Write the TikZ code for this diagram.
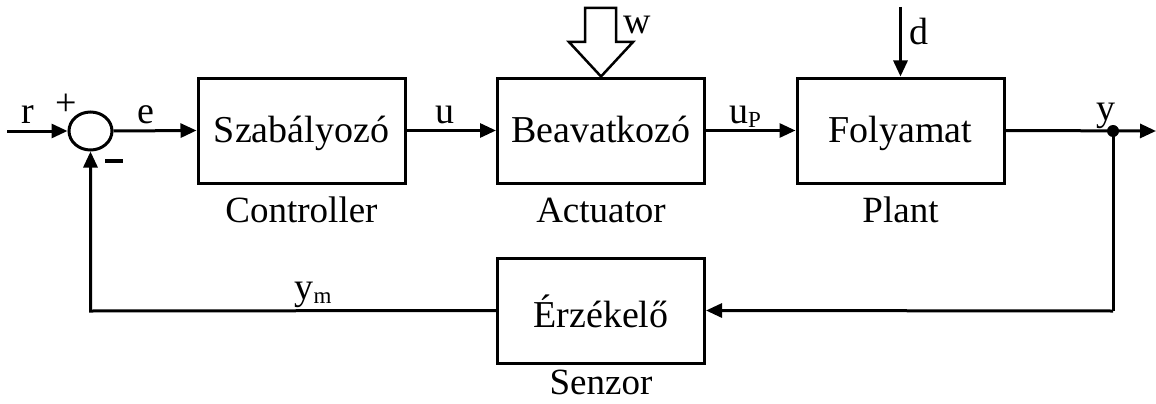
\documentclass[tikz,border=0pt]{standalone}
\usepackage{fontspec}
\setmainfont{Liberation Serif}
\usetikzlibrary{arrows.meta,shapes.geometric}
\tikzset{
  blk/.style={draw, line width=3pt, minimum width=207pt, minimum height=105pt,
    inner sep=0pt, font=\fontsize{38}{38}\selectfont, text depth=2pt},
  sig/.style={line width=3pt, -{Triangle[length=16pt,width=14pt]}},
  wire/.style={line width=3pt},
  lbl/.style={anchor=base, inner sep=0pt, font=\fontsize{38}{38}\selectfont},
  sub/.style={anchor=base, inner sep=0pt, font=\fontsize{37}{37}\selectfont},
}
\newcommand{\lowsub}[1]{\raisebox{-0.12em}{\fontsize{23}{23}\selectfont #1}}
\begin{document}
\begin{tikzpicture}[x=1pt,y=-1pt]
\useasboundingbox (0,0) rectangle (1156,404);

% summing junction
\node[draw, line width=3pt, ellipse, minimum width=43pt, minimum height=38pt, inner sep=0pt] (sum) at (90.5,131) {};
\coordinate (rin) at (7,131);

% blocks
\node[blk, text height=25pt] (ctrl) at (301.5,130.5) {Szabályozó};
\node[blk, text height=25pt] (act) at (601,130.5) {Beavatkozó};
\node[blk, text height=25pt] (plant) at (900.5,130.5) {Folyamat};
\node[blk, text height=35pt] (sens) at (601,310.5) {Érzékelő};

% branch point and line ends
\coordinate (yout) at (1156,131);
\node[circle, fill, inner sep=0pt, minimum size=12pt] (tap) at (1113,131) {};
\coordinate (fbR) at (1113,311);
\coordinate (fbL) at (90.5,311);
\coordinate (dtop) at (900.5,7);

% forward path
\draw[sig] (rin) -- (sum.west);
\draw[sig] (sum.east) -- (ctrl.west);
\draw[sig] (ctrl.east) -- (act.west);
\draw[sig] (act.east) -- (plant.west);
\draw[sig] (plant.east) -- (yout);

% feedback path
\draw[wire] (tap.center) -- (fbR);
\draw[sig] (fbR) -- (sens.east);
\draw[sig] (sens.west) -- (fbL) -- (sum.south);

% disturbance d
\draw[sig] (dtop) -- (plant.north);

% block arrow w
\draw[line width=2.5pt, fill=white, line join=miter]
  (585,8) -- (616,8) -- (616,42) -- (633,42) -- (act.north) -- (569,42) -- (585,42) -- cycle;

% signal labels
\node[lbl] (tr) at (28,123) {r};
\node[lbl] (tplus) at (66,115) {+};
\node[lbl] (te) at (146,123) {e};
\node[lbl] (tu) at (445,123) {u};
\node[lbl] (tup) at (745,123) {u\lowsub{P}};
\node[lbl] (ty) at (1106,120) {y};
\node[lbl] (tym) at (313,299) {y\lowsub{m}};
\node[lbl] (td) at (919,45) {d};
\node[lbl] (tw) at (637,34) {w};
\draw[line width=3.5pt] (105,161) -- (123,161);

% block captions
\node[sub] (cctrl) at (301.5,222) {Controller};
\node[sub] (cact) at (601,222) {Actuator};
\node[sub] (cplant) at (900.5,222) {Plant};
\node[sub] (csens) at (601,394) {Senzor};
\end{tikzpicture}
\end{document}
